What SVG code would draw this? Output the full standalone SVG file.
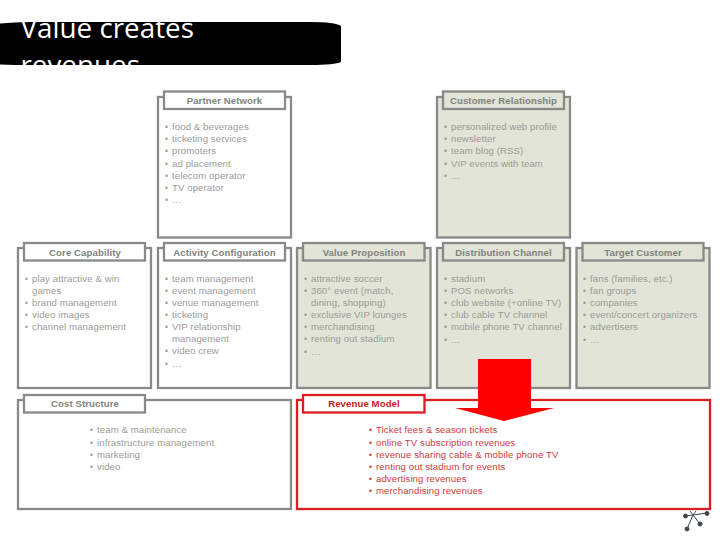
<svg xmlns="http://www.w3.org/2000/svg" width="728" height="546" viewBox="0 0 728 546">
<style>
text{font-family:"Liberation Sans",Arial,sans-serif}
.box{fill:#fff;stroke:#878a86;stroke-width:2.3}
.green{fill:#e1e4d6}
.red{stroke:#dd1c24;fill:#fff}
.hd{font-size:9.6px;font-weight:bold;fill:#80827e;text-anchor:middle;letter-spacing:.1px}
.hr{fill:#c8161e}
.li{font-size:9.6px;fill:#9a9c98;letter-spacing:.1px}
.lir{font-size:9.6px;fill:#cf3a40;letter-spacing:.1px}
.b{font-size:8.5px}
.title{font-family:"Open Sans",sans-serif;font-size:27.8px;fill:#fff}
</style>
<defs><clipPath id="tc"><rect x="0" y="22" width="341" height="43"/></clipPath></defs>
<rect width="728" height="546" fill="#fff"/>
<g id="banner">
<path d="M0 23.500Q15 22 30 22H310Q335 22 341 26V62Q335 65 310 65H30Q15 65 0 64.500Z" fill="#000"/>
<g clip-path="url(#tc)"><text class="title" x="20.500" y="38">Value creates</text><text class="title" x="20.500" y="75">revenues</text></g>
</g>
<g id="partner-network">
<rect class="box" x="158" y="97" width="133" height="140.500"/>
<rect class="box" x="164" y="91.500" width="121" height="17.500"/>
<text class="hd" x="224.500" y="104">Partner Network</text>
<text class="li"><tspan class="b" x="165" y="130">•</tspan><tspan x="172" y="130">food &amp; beverages</tspan><tspan class="b" x="165" y="142">•</tspan><tspan x="172" y="142">ticketing services</tspan><tspan class="b" x="165" y="154">•</tspan><tspan x="172" y="154">promoters</tspan><tspan class="b" x="165" y="167">•</tspan><tspan x="172" y="167">ad placement</tspan><tspan class="b" x="165" y="179">•</tspan><tspan x="172" y="179">telecom operator</tspan><tspan class="b" x="165" y="191">•</tspan><tspan x="172" y="191">TV operator</tspan><tspan class="b" x="165" y="203">•</tspan><tspan x="172" y="203">…</tspan></text>
</g>
<g id="customer-relationship">
<rect class="box green" x="437" y="97" width="133" height="140.500"/>
<rect class="box green" x="443" y="91.500" width="121" height="17.500"/>
<text class="hd" x="503.500" y="104">Customer Relationship</text>
<text class="li"><tspan class="b" x="444" y="130">•</tspan><tspan x="451" y="130">personalized web profile</tspan><tspan class="b" x="444" y="142">•</tspan><tspan x="451" y="142">newsletter</tspan><tspan class="b" x="444" y="154">•</tspan><tspan x="451" y="154">team blog (RSS)</tspan><tspan class="b" x="444" y="167">•</tspan><tspan x="451" y="167">VIP events with team</tspan><tspan class="b" x="444" y="179">•</tspan><tspan x="451" y="179">…</tspan></text>
</g>
<g id="core-capability">
<rect class="box" x="18" y="248" width="133" height="140"/>
<rect class="box" x="24" y="243" width="121" height="17.500"/>
<text class="hd" x="85" y="256">Core Capability</text>
<text class="li"><tspan class="b" x="25" y="282">•</tspan><tspan x="32" y="282">play attractive &amp; win</tspan><tspan x="32" y="294">games</tspan><tspan class="b" x="25" y="306">•</tspan><tspan x="32" y="306">brand management</tspan><tspan class="b" x="25" y="318">•</tspan><tspan x="32" y="318">video images</tspan><tspan class="b" x="25" y="330">•</tspan><tspan x="32" y="330">channel management</tspan></text>
</g>
<g id="activity-configuration">
<rect class="box" x="158" y="248" width="133" height="140"/>
<rect class="box" x="164" y="243" width="121" height="17.500"/>
<text class="hd" x="224.500" y="256">Activity Configuration</text>
<text class="li"><tspan class="b" x="165" y="282">•</tspan><tspan x="172" y="282">team management</tspan><tspan class="b" x="165" y="294">•</tspan><tspan x="172" y="294">event management</tspan><tspan class="b" x="165" y="306">•</tspan><tspan x="172" y="306">venue management</tspan><tspan class="b" x="165" y="318">•</tspan><tspan x="172" y="318">ticketing</tspan><tspan class="b" x="165" y="330">•</tspan><tspan x="172" y="330">VIP relationship</tspan><tspan x="172" y="342">management</tspan><tspan class="b" x="165" y="354">•</tspan><tspan x="172" y="354">video crew</tspan><tspan class="b" x="165" y="367">•</tspan><tspan x="172" y="367">…</tspan></text>
</g>
<g id="value-proposition">
<rect class="box green" x="297" y="248" width="133.500" height="140"/>
<rect class="box green" x="303" y="243" width="121.500" height="17.500"/>
<text class="hd" x="364" y="256">Value Proposition</text>
<text class="li"><tspan class="b" x="304" y="282">•</tspan><tspan x="311" y="282">attractive soccer</tspan><tspan class="b" x="304" y="294">•</tspan><tspan x="311" y="294">360° event (match,</tspan><tspan x="311" y="306">dining, shopping)</tspan><tspan class="b" x="304" y="318">•</tspan><tspan x="311" y="318">exclusive VIP lounges</tspan><tspan class="b" x="304" y="330">•</tspan><tspan x="311" y="330">merchandising</tspan><tspan class="b" x="304" y="342">•</tspan><tspan x="311" y="342">renting out stadium</tspan><tspan class="b" x="304" y="355">•</tspan><tspan x="311" y="355">…</tspan></text>
</g>
<g id="distribution-channel">
<rect class="box green" x="437" y="248" width="133" height="140"/>
<rect class="box green" x="443" y="243" width="121" height="17.500"/>
<text class="hd" x="503.500" y="256">Distribution Channel</text>
<text class="li"><tspan class="b" x="444" y="282">•</tspan><tspan x="451" y="282">stadium</tspan><tspan class="b" x="444" y="294">•</tspan><tspan x="451" y="294">POS networks</tspan><tspan class="b" x="444" y="306">•</tspan><tspan x="451" y="306">club website (+online TV)</tspan><tspan class="b" x="444" y="318">•</tspan><tspan x="451" y="318">club cable TV channel</tspan><tspan class="b" x="444" y="330">•</tspan><tspan x="451" y="330">mobile phone TV channel</tspan><tspan class="b" x="444" y="343">•</tspan><tspan x="451" y="343">…</tspan></text>
</g>
<g id="target-customer">
<rect class="box green" x="576.500" y="248" width="133" height="140"/>
<rect class="box green" x="582.500" y="243" width="121" height="17.500"/>
<text class="hd" x="643" y="256">Target Customer</text>
<text class="li"><tspan class="b" x="583" y="282">•</tspan><tspan x="590" y="282">fans (families, etc.)</tspan><tspan class="b" x="583" y="294">•</tspan><tspan x="590" y="294">fan groups</tspan><tspan class="b" x="583" y="306">•</tspan><tspan x="590" y="306">companies</tspan><tspan class="b" x="583" y="318">•</tspan><tspan x="590" y="318">event/concert organizers</tspan><tspan class="b" x="583" y="330">•</tspan><tspan x="590" y="330">advertisers</tspan><tspan class="b" x="583" y="343">•</tspan><tspan x="590" y="343">…</tspan></text>
</g>
<g id="cost-structure">
<rect class="box" x="18" y="400" width="273" height="109"/>
<rect class="box" x="24" y="395" width="121" height="17.500"/>
<text class="hd" x="85" y="407">Cost Structure</text>
<text class="li"><tspan class="b" x="90" y="433">•</tspan><tspan x="97" y="433">team &amp; maintenance</tspan><tspan class="b" x="90" y="446">•</tspan><tspan x="97" y="446">infrastructure management</tspan><tspan class="b" x="90" y="458">•</tspan><tspan x="97" y="458">marketing</tspan><tspan class="b" x="90" y="470">•</tspan><tspan x="97" y="470">video</tspan></text>
</g>
<g id="revenue-model">
<rect class="box red" x="297" y="400" width="413" height="109"/>
<rect class="box red" x="303" y="395" width="121.500" height="17.500"/>
<text class="hd hr" x="364" y="407">Revenue Model</text>
<text class="lir"><tspan class="b" x="369" y="433">•</tspan><tspan x="376" y="433">Ticket fees &amp; season tickets</tspan><tspan class="b" x="369" y="446">•</tspan><tspan x="376" y="446">online TV subscription revenues</tspan><tspan class="b" x="369" y="458">•</tspan><tspan x="376" y="458">revenue sharing cable &amp; mobile phone TV</tspan><tspan class="b" x="369" y="470">•</tspan><tspan x="376" y="470">renting out stadium for events</tspan><tspan class="b" x="369" y="482">•</tspan><tspan x="376" y="482">advertising revenues</tspan><tspan class="b" x="369" y="494">•</tspan><tspan x="376" y="494">merchandising revenues</tspan></text>
</g>
<g id="connectors">
<path d="M478 359H531V408H554L504 421L455 408H478Z" fill="#f00"/>
</g>
<g id="logo" stroke="#3d4650" stroke-width="1" fill="#3d4650">
<path d="M693 515L685.500 516M693 515L707 513M693 515L700 524M693 515L687 529M693 515L690 511M693 515L696 511" fill="none"/>
<circle cx="685.500" cy="516" r="2"/><circle cx="707" cy="513.500" r="2"/><circle cx="700" cy="524" r="2"/><circle cx="687" cy="529" r="2"/>
</g>
</svg>
